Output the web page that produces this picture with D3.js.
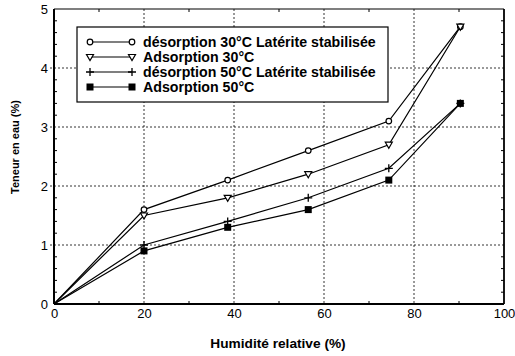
<!DOCTYPE html>
<html>
<head>
	<meta charset="UTF-8">
	<title>Teneur en eau</title>
	<script src="https://d3js.org/d3.v7.min.js"></script>
	<style>
		body { margin: 0; background: #fff; }
		text { font-family: "Liberation Sans", Arial, sans-serif; }
		.grid line { stroke: #000; stroke-dasharray: 2,2; stroke-width: 0.8px; }
		.curve { fill: none; stroke: #000; stroke-width: 1.2px; }
	</style>
</head>
<body>
	<script>
		// humidité relative (%)
		var humidite = [0, 20, 38.6, 56.5, 74.4, 90.3];
		// teneur en eau (%) pour chaque série
		var desorption30 = [0, 1.6, 2.1, 2.6, 3.1, 4.7];
		var adsorption30 = [0, 1.5, 1.8, 2.2, 2.7, 4.7];
		var desorption50 = [0, 1.0, 1.4, 1.8, 2.3, 3.4];
		var adsorption50 = [0, 0.9, 1.3, 1.6, 2.1, 3.4];
		var legendLabels = ["désorption 30°C Latérite stabilisée", "Adsorption 30°C",
			"désorption 50°C Latérite stabilisée", "Adsorption 50°C"];
		var xTicks = [0, 20, 40, 60, 80, 100];
		var yTicks = [0, 1, 2, 3, 4, 5];

		var series = [
			{name: legendLabels[0], values: desorption30, marker: "circle"},
			{name: legendLabels[1], values: adsorption30, marker: "triangle"},
			{name: legendLabels[2], values: desorption50, marker: "plus"},
			{name: legendLabels[3], values: adsorption50, marker: "square"}
		];

		var width = 515, height = 356;
		var margin = {top: 9, right: 11, bottom: 52, left: 54};
		var w = width - margin.left - margin.right,
		    h = height - margin.top - margin.bottom;

		var svg = d3.select("body").append("svg")
		    .attr("width", width)
		    .attr("height", height);
		var g = svg.append("g").attr("transform", "translate(" + margin.left + "," + margin.top + ")");

		var x = d3.scaleLinear().domain([0, 100]).range([0, w]);
		var y = d3.scaleLinear().domain([0, 5]).range([h, 0]);

		// dashed grid at the major ticks
		var grid = g.append("g").attr("class", "grid");
		grid.selectAll(".gx").data(xTicks.slice(1, -1)).enter().append("line")
		    .attr("x1", x).attr("x2", x).attr("y1", 0).attr("y2", h);
		grid.selectAll(".gy").data(yTicks.slice(1, -1)).enter().append("line")
		    .attr("x1", -4).attr("x2", w).attr("y1", y).attr("y2", y);

		// minor ticks on all four sides
		var xMinor = d3.range(10, 100, 10).filter(function(d) { return d % 20 != 0; });
		var yMinor = d3.range(0.2, 5, 0.2).filter(function(d) { return Math.abs(d - Math.round(d)) > 0.01; });
		var ticks = g.append("g").attr("stroke", "#000").attr("stroke-width", 1);
		xMinor.forEach(function(d) {
			ticks.append("line").attr("x1", x(d)).attr("x2", x(d)).attr("y1", h).attr("y2", h - 3);
			ticks.append("line").attr("x1", x(d)).attr("x2", x(d)).attr("y1", 0).attr("y2", 3);
		});
		yMinor.forEach(function(d) {
			ticks.append("line").attr("x1", 0).attr("x2", 3).attr("y1", y(d)).attr("y2", y(d));
			ticks.append("line").attr("x1", w).attr("x2", w - 3).attr("y1", y(d)).attr("y2", y(d));
		});

		// axes with tick labels
		var xAxis = g.append("g").attr("transform", "translate(0," + h + ")")
		    .call(d3.axisBottom(x).tickValues(xTicks).tickFormat(d3.format("d")).tickSize(0).tickPadding(5));
		var yAxis = g.append("g")
		    .call(d3.axisLeft(y).tickValues(yTicks).tickFormat(d3.format("d")).tickSize(0).tickPadding(6));
		[xAxis, yAxis].forEach(function(a) {
			a.select(".domain").remove();
			a.selectAll("text").style("font-size", "13px").attr("fill", "#000");
		});

		// frame
		g.append("line").attr("x1", 0).attr("x2", w).attr("y1", 0).attr("y2", 0).attr("stroke", "#000").attr("stroke-width", 1.2);
		g.append("line").attr("x1", w).attr("x2", w).attr("y1", 0).attr("y2", h).attr("stroke", "#000").attr("stroke-width", 1.8);
		g.append("line").attr("x1", 0).attr("x2", 0).attr("y1", 0).attr("y2", h).attr("stroke", "#000").attr("stroke-width", 2);
		g.append("line").attr("x1", 0).attr("x2", w).attr("y1", h).attr("y2", h).attr("stroke", "#000").attr("stroke-width", 2);

		// markers
		function drawMarker(sel, type, cx, cy) {
			if (type == "circle") {
				sel.append("circle").attr("cx", cx).attr("cy", cy).attr("r", 2.8)
				    .attr("fill", "#fff").attr("stroke", "#000").attr("stroke-width", 1.2);
			} else if (type == "triangle") {
				sel.append("path")
				    .attr("d", "M" + (cx - 3.5) + "," + (cy - 2.5) + "L" + (cx + 3.5) + "," + (cy - 2.5) + "L" + cx + "," + (cy + 3.5) + "Z")
				    .attr("fill", "#fff").attr("stroke", "#000").attr("stroke-width", 1.2);
			} else if (type == "plus") {
				sel.append("path")
				    .attr("d", "M" + (cx - 4) + "," + cy + "H" + (cx + 4) + "M" + cx + "," + (cy - 4) + "V" + (cy + 4))
				    .attr("stroke", "#000").attr("stroke-width", 1.3);
			} else {
				sel.append("rect").attr("x", cx - 3.5).attr("y", cy - 3.5).attr("width", 7).attr("height", 7)
				    .attr("fill", "#000");
			}
		}

		var line = d3.line()
		    .x(function(d, i) { return x(humidite[i]); })
		    .y(function(d) { return y(d); });

		series.forEach(function(s) {
			g.append("path").attr("class", "curve").attr("d", line(s.values));
			var mg = g.append("g");
			s.values.forEach(function(v, i) {
				if (i == 0) return;
				drawMarker(mg, s.marker, x(humidite[i]), y(v));
			});
		});

		// legend
		var leg = svg.append("g").attr("transform", "translate(77,27)");
		leg.append("rect").attr("width", 311).attr("height", 75)
		    .attr("fill", "#fff").attr("stroke", "#000").attr("stroke-width", 1.2);
		series.forEach(function(s, i) {
			var ly = 15 + i * 15;
			leg.append("line").attr("x1", 13).attr("x2", 55).attr("y1", ly).attr("y2", ly)
			    .attr("stroke", "#000").attr("stroke-width", 1.2);
			drawMarker(leg, s.marker, 13, ly);
			drawMarker(leg, s.marker, 55, ly);
			leg.append("text").attr("x", 66).attr("y", ly + 5)
			    .style("font-size", "14.2px").style("font-weight", "bold")
			    .text(s.name);
		});

		// axis titles
		svg.append("text").attr("x", 278).attr("y", 348)
		    .attr("text-anchor", "middle").style("font-size", "13.7px").style("font-weight", "bold")
		    .text("Humidité relative (%)");
		svg.append("text").attr("transform", "translate(19,147) rotate(-90)")
		    .attr("text-anchor", "middle").style("font-size", "11px").style("font-weight", "bold")
		    .text("Teneur en eau (%)");
	</script>
</body>
</html>
